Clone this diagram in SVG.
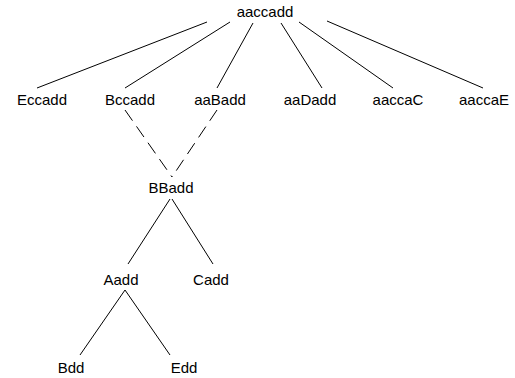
<svg xmlns="http://www.w3.org/2000/svg" width="515" height="378" viewBox="0 0 515 378">
<style>
text{font-family:"Liberation Sans",Arial,sans-serif;font-size:15px;fill:#000;text-anchor:middle}
line{stroke:#000;stroke-width:1}
.d{stroke-dasharray:13,7}
</style>
<rect width="515" height="378" fill="#fff"/>
<g id="connectors">
<line x1="207" y1="22" x2="37" y2="88"/>
<line x1="230" y1="22" x2="125" y2="88"/>
<line x1="253" y1="23" x2="217" y2="88"/>
<line x1="281" y1="23" x2="322" y2="88"/>
<line x1="299" y1="22" x2="393" y2="88"/>
<line x1="327" y1="21" x2="483" y2="88"/>
<line class="d" x1="125" y1="110" x2="172" y2="177"/>
<line class="d" x1="217" y1="110" x2="172" y2="177"/>
<line x1="170" y1="199" x2="128" y2="264"/>
<line x1="172" y1="199" x2="213" y2="264"/>
<line x1="125" y1="290" x2="80" y2="355"/>
<line x1="125" y1="290" x2="170" y2="355"/>
</g>
<g id="n_aaccadd"><text x="265" y="17">aaccadd</text></g>
<g id="n_Eccadd"><text x="42" y="105">Eccadd</text></g>
<g id="n_Bccadd"><text x="130" y="105">Bccadd</text></g>
<g id="n_aaBadd"><text x="220" y="105">aaBadd</text></g>
<g id="n_aaDadd"><text x="310" y="105">aaDadd</text></g>
<g id="n_aaccaC"><text x="398" y="105">aaccaC</text></g>
<g id="n_aaccaE"><text x="484" y="105">aaccaE</text></g>
<g id="n_BBadd"><text x="171" y="193">BBadd</text></g>
<g id="n_Aadd"><text x="121" y="285">Aadd</text></g>
<g id="n_Cadd"><text x="211" y="285">Cadd</text></g>
<g id="n_Bdd"><text x="71" y="373">Bdd</text></g>
<g id="n_Edd"><text x="184" y="373">Edd</text></g>
</svg>
